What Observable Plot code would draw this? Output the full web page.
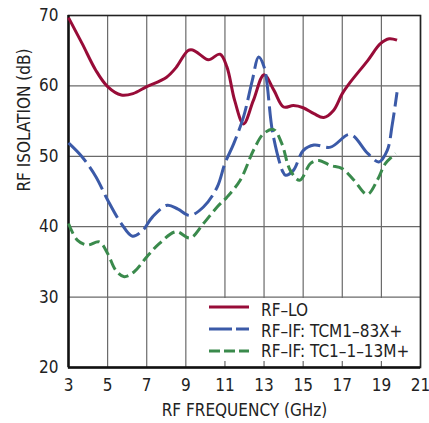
<!DOCTYPE html>
<html>
<head>
<meta charset="utf-8">
<script src="https://cdn.jsdelivr.net/npm/d3@7"></script>
<script src="https://cdn.jsdelivr.net/npm/@observablehq/plot@0.6"></script>
<style>
  body { margin: 0; background: #fff; }
  #wrap { position: relative; width: 429px; height: 423px; }
  #legend { position: absolute; left: 203px; top: 298px; width: 215px; height: 63px; background: #fff; }
</style>
</head>
<body>
<div id="wrap"></div>
<script>
const FONT = "'DejaVu Sans Condensed', 'Liberation Sans', Arial, sans-serif";

// Tick values
const xTicks = [3, 5, 7, 9, 11, 13, 15, 17, 19, 21];
const yTicks = [20, 30, 40, 50, 60, 70];
const xLabel = "RF FREQUENCY (GHz)";
const yLabel = "RF ISOLATION (dB)";

// Series names
const seriesNames = ["RF–LO", "RF–IF: TCM1–83X+", "RF–IF: TC1–1–13M+"];
const seriesColors = ["#980c38", "#3b5aa8", "#3a8a4c"];
const seriesDash = [null, "26,6", "11,5"];
const legendDash = [null, "23,4", "11,4"];

// RF–LO
const loFreq = [3, 3.7, 4.4, 5.0, 5.7, 6.3, 7.0, 8.0, 8.5, 9.1, 9.35, 9.7, 10.15, 10.75, 11.1, 11.5, 11.95, 12.45, 13.0, 13.5, 14.0, 14.5, 15.0, 15.55, 16.05, 16.55, 17.0, 17.4, 18.3, 18.95, 19.4, 19.8];
const loIso  = [69.7, 66.0, 62.2, 59.9, 58.7, 58.9, 59.9, 61.2, 62.6, 65.0, 65.1, 64.5, 63.7, 64.5, 62.7, 57.9, 54.6, 57.9, 61.6, 59.4, 57.0, 57.2, 56.9, 56.05, 55.5, 56.5, 58.9, 60.5, 63.6, 66.0, 66.7, 66.5];

// RF–IF: TCM1–83X+
const tcmFreq = [3, 3.7, 4.4, 5.0, 5.7, 6.27, 6.8, 7.3, 8.05, 8.6, 9.2, 9.9, 10.6, 11.0, 11.45, 11.95, 12.4, 12.72, 13.0, 13.45, 13.96, 14.1, 14.5, 15.0, 15.55, 16.4, 17.4, 18.3, 18.87, 19.3, 19.56, 19.8];
const tcmIso  = [51.9, 49.9, 47.1, 43.8, 40.45, 38.65, 39.5, 41.4, 43.05, 42.5, 41.6, 42.8, 45.6, 49.0, 51.8, 55.6, 60.8, 64.1, 62.7, 53.2, 47.8, 47.3, 48.0, 50.8, 51.6, 51.3, 53.1, 50.4, 49.2, 50.85, 54.6, 59.1];

// RF–IF: TC1–1–13M+
const tc1Freq = [3, 3.45, 3.97, 4.57, 5.0, 5.42, 5.85, 6.36, 7.0, 7.64, 8.5, 9.22, 9.9, 10.6, 11.1, 11.78, 12.46, 12.97, 13.49, 13.91, 14.34, 14.82, 15.38, 15.8, 16.4, 17.0, 17.6, 18.28, 18.79, 19.21, 19.73];
const tc1Iso  = [40.45, 38.1, 37.4, 37.85, 36.2, 33.8, 32.9, 33.6, 35.7, 37.6, 39.3, 38.4, 40.45, 42.8, 44.2, 46.6, 50.85, 53.2, 53.8, 51.8, 48.0, 46.6, 49.0, 49.4, 48.7, 48.25, 46.6, 44.6, 46.6, 49.0, 50.4];

const series = [
  {freq: loFreq, iso: loIso},
  {freq: tcmFreq, iso: tcmIso},
  {freq: tc1Freq, iso: tc1Iso}
].map((s, i) => ({
  name: seriesNames[i], color: seriesColors[i], dash: seriesDash[i],
  data: s.freq.map((f, j) => ({f, v: s.iso[j]}))
}));

const lineMarks = series.map(s => Plot.line(s.data, {
  x: "f", y: "v", stroke: s.color, strokeWidth: 3,
  strokeDasharray: s.dash, curve: "catmull-rom", strokeLinecap: "butt"
}));

const chart = Plot.plot({
  width: 429, height: 423,
  marginLeft: 68, marginRight: 9, marginTop: 15, marginBottom: 56,
  style: {fontFamily: FONT, fontSize: "17px", color: "#222", background: "#fff", overflow: "visible"},
  x: {domain: [3, 21], ticks: xTicks},
  y: {domain: [20, 70], ticks: yTicks},
  marks: [
    Plot.ruleX(xTicks, {stroke: "#6a6a6a", strokeWidth: 1.2}),
    Plot.ruleY(yTicks, {stroke: "#6a6a6a", strokeWidth: 1.2}),
    Plot.frame({stroke: "#222", strokeWidth: 1.6}),
    Plot.ruleX([3], {stroke: "#111", strokeWidth: 2.4}),
    Plot.ruleY([20], {stroke: "#111", strokeWidth: 2.4}),
    ...lineMarks,
    Plot.axisX({ticks: xTicks, tickSize: 0, tickPadding: 11, fontSize: 17, label: null, tickFormat: d => String(d)}),
    Plot.axisY({ticks: yTicks, tickSize: 0, tickPadding: 10, fontSize: 17, label: null, tickFormat: d => String(d)}),
    Plot.text([xLabel], {frameAnchor: "bottom", dy: 43, lineAnchor: "middle", fontSize: 17, fill: "#222"}),
    Plot.text([yLabel], {frameAnchor: "left", dx: -44, rotate: -90, lineAnchor: "middle", fontSize: 17, fill: "#222"})
  ]
});

const wrap = document.getElementById("wrap");
wrap.appendChild(chart);

// Legend overlay
const legend = d3.select(wrap).append("div").attr("id", "legend");
const lsvg = legend.append("svg").attr("width", 215).attr("height", 63)
  .style("font-family", FONT).style("font-size", "17px");
const rows = [9, 31, 53];
const baselines = [18, 38.5, 59];
series.forEach((s, i) => {
  lsvg.append("line")
    .attr("x1", 6).attr("x2", 46).attr("y1", rows[i]).attr("y2", rows[i])
    .attr("stroke", s.color).attr("stroke-width", 3)
    .attr("stroke-dasharray", legendDash[i]);
  lsvg.append("text").attr("x", 58).attr("y", baselines[i]).attr("fill", "#222").text(s.name);
});
</script>
</body>
</html>
